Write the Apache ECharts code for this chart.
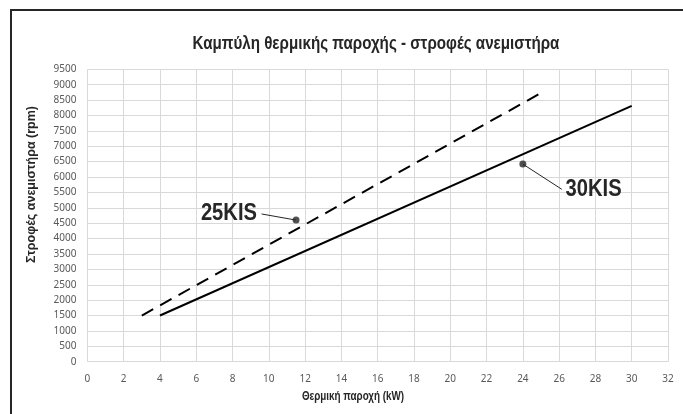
<!DOCTYPE html>
<html><head><meta charset="utf-8">
<script src="https://cdn.jsdelivr.net/npm/echarts@6/dist/echarts.min.js"></script>
<style>html,body{margin:0;padding:0;background:#fff}#c{width:683px;height:414px}</style>
</head><body><div id="c"></div>
<script>
const titleText = 'Καμπύλη θερμικής παροχής - στροφές ανεμιστήρα';
const xAxisTitle = 'Θερμική παροχή (kW)';
const yAxisTitle = 'Στροφές ανεμιστήρα (rpm)';
const xMin = 0, xMax = 32, xStep = 2;
const yMin = 0, yMax = 9500, yStep = 500;
// series (kW, rpm)
const kis25 = [[3, 1500], [25, 8730]];
const kis30 = [[4, 1500], [30, 8310]];
// annotations: dot, leader end, label position, text
const ann25Dot = [11.5, 4600];
const ann25Lead = [9.6, 4800];
const ann25Label = [7.8, 4830];
const ann25Text = '25KIS';
const ann30Dot = [24, 6420];
const ann30Lead = [26.15, 5600];
const ann30Label = [27.9, 5600];
const ann30Text = '30KIS';

const chart = echarts.init(document.getElementById('c'), null, {renderer: 'canvas'});
const sans = '"Liberation Sans", Arial, sans-serif';
const frame = {
  type: 'polyline', silent: true,
  shape: {points: [[11, 414], [11, 10], [683, 10]]},
  style: {stroke: '#262626', lineWidth: 2, fill: null}
};
function narrowText(x, y, text, size) {
  return {
    type: 'text', silent: true, x: x, y: y, scaleX: 0.82,
    style: {text: text, fontFamily: sans, fontSize: size, fontWeight: 'bold',
            fill: '#262626', align: 'center', verticalAlign: 'middle'}
  };
}
const fixedGraphics = [
  frame,
  narrowText(376, 44, titleText, 18.5),
  narrowText(353, 397, xAxisTitle, 12)
];
chart.setOption({
  animation: false,
  backgroundColor: '#fff',
  graphic: fixedGraphics,
  grid: {left: 87.4, right: 15, top: 69.3, bottom: 52.3, show: false},
  xAxis: {
    type: 'value', min: xMin, max: xMax, interval: xStep,
    axisLine: {show: true, lineStyle: {color: '#d9d9d9', width: 1}},
    axisTick: {show: false},
    axisLabel: {fontFamily: '"Noto Sans", sans-serif', fontSize: 10, color: '#595959', margin: 12},
    splitLine: {show: true, lineStyle: {color: '#d9d9d9', width: 1}}
  },
  yAxis: {
    type: 'value', min: yMin, max: yMax, interval: yStep,
    name: yAxisTitle, nameLocation: 'middle', nameGap: 49,
    nameTextStyle: {fontFamily: sans, fontSize: 12.5, fontWeight: 'bold', color: '#262626',
                    padding: [0, 0, 0, 62]},
    axisLine: {show: false}, axisTick: {show: false},
    axisLabel: {fontFamily: '"Noto Sans", sans-serif', fontSize: 10, color: '#595959', margin: 11,
                formatter: v => String(v)},
    splitLine: {show: true, lineStyle: {color: '#d9d9d9', width: 1}}
  },
  series: [
    {type: 'line', name: '25KIS', data: kis25, symbol: 'none',
     lineStyle: {color: '#000', width: 2, type: [13, 8]}},
    {type: 'line', name: '30KIS', data: kis30, symbol: 'none',
     lineStyle: {color: '#000', width: 2}},
    {type: 'line', data: [ann25Dot, ann25Lead], symbol: 'none',
     lineStyle: {color: '#262626', width: 1}},
    {type: 'line', data: [ann30Dot, ann30Lead], symbol: 'none',
     lineStyle: {color: '#262626', width: 1}},
    {type: 'scatter', data: [ann25Dot, ann30Dot], symbol: 'circle', symbolSize: 7,
     itemStyle: {color: '#262626'}}
  ]
});
function labelEl(pos, text) {
  const p = chart.convertToPixel({gridIndex: 0}, pos);
  const el = narrowText(p[0], p[1], text, 24);
  el.scaleX = 0.84;
  return el;
}
chart.setOption({graphic: fixedGraphics.concat([labelEl(ann25Label, ann25Text), labelEl(ann30Label, ann30Text)])},
                {replaceMerge: ['graphic']});
</script></body></html>
